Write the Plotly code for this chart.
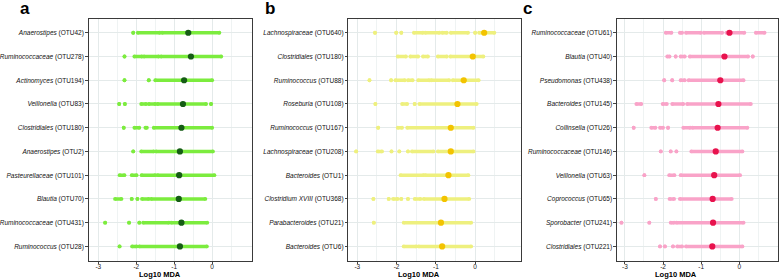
import plotly.graph_objects as go

# ---------------- data ----------------
labels_a = ["<i>Anaerostipes</i> (OTU42)", "<i>Ruminococcaceae</i> (OTU278)", "<i>Actinomyces</i> (OTU194)",
            "<i>Veillonella</i> (OTU83)", "<i>Clostridiales</i> (OTU180)", "<i>Anaerostipes</i> (OTU2)",
            "<i>Pasteurellaceae</i> (OTU101)", "<i>Blautia</i> (OTU70)", "<i>Ruminococcaceae</i> (OTU431)",
            "<i>Ruminococcus</i> (OTU28)"]
# replicate MDA values, given as runs [start, end] of overlapping points (single points: start == end)
runs_a = [
    [(-2.08, -2.08), (-1.96, -1.38), (-1.32, 0.19)],
    [(-2.31, -2.31), (-2.05, -1.85), (-1.80, -1.41), (-1.35, 0.24)],
    [(-2.31, -2.31), (-1.67, -1.67), (-1.50, 0.0)],
    [(-2.45, -2.45), (-2.30, -2.30), (-1.87, -1.74), (-1.67, -1.50), (-1.44, -0.16), (-0.03, -0.03)],
    [(-2.33, -2.33), (-2.05, -1.92), (-1.76, -1.72), (-1.54, 0.0)],
    [(-2.08, -2.08), (-1.87, -1.54), (-1.48, 0.02)],
    [(-2.44, -2.31), (-2.12, -1.99), (-1.86, -1.50), (-1.44, 0.06)],
    [(-2.56, -2.39), (-2.12, -2.12), (-1.97, -1.97), (-1.85, -1.67), (-1.61, -0.18)],
    [(-2.82, -2.82), (-2.19, -2.19), (-1.92, -1.92), (-1.82, -1.14), (-1.08, -0.13)],
    [(-2.44, -2.44), (-2.11, -1.99), (-1.92, -0.14)],
]
median_a = [-0.63, -0.56, -0.74, -0.77, -0.81, -0.85, -0.87, -0.88, -0.81, -0.85]

labels_b = ["<i>Lachnospiraceae</i> (OTU640)", "<i>Clostridiales</i> (OTU180)", "<i>Ruminococcus</i> (OTU88)",
            "<i>Roseburia</i> (OTU108)", "<i>Ruminococcus</i> (OTU167)", "<i>Lachnospiraceae</i> (OTU208)",
            "<i>Bacteroides</i> (OTU1)", "<i>Clostridium XVIII</i> (OTU368)", "<i>Parabacteroides</i> (OTU21)",
            "<i>Bacteroides</i> (OTU6)"]
runs_b = [
    [(-2.55, -2.55), (-2.01, -2.01), (-1.88, -1.88), (-1.56, -1.33), (-1.27, -0.91), (-0.84, -0.72),
     (-0.62, -0.18), (0.0, 0.0), (0.10, 0.49)],
    [(-1.97, -1.76), (-1.65, -1.45), (-1.33, -1.20), (-0.95, -0.72), (-0.63, 0.21)],
    [(-2.69, -2.69), (-2.14, -2.14), (-2.03, -1.79), (-1.71, -1.59), (-1.45, -1.17), (-1.12, -0.66), (-0.57, 0.09)],
    [(-2.54, -2.54), (-1.86, -1.73), (-1.54, -1.54), (-1.42, 0.04)],
    [(-2.47, -2.47), (-1.97, -1.86), (-1.73, -0.04)],
    [(-3.03, -3.03), (-2.48, -2.37), (-2.13, -2.13), (-1.93, -1.93), (-1.71, -1.71), (-1.61, -1.06), (-0.95, -0.04)],
    [(-1.90, -1.31), (-1.27, -0.17)],
    [(-2.59, -2.59), (-2.20, -2.20), (-2.09, -1.97), (-1.88, -1.88), (-1.71, -1.71), (-1.54, -1.39), (-1.31, -0.15)],
    [(-2.58, -2.58), (-1.82, -0.10)],
    [(-1.82, -1.50), (-1.44, -0.10)],
]
median_b = [0.23, -0.06, -0.29, -0.45, -0.62, -0.62, -0.68, -0.78, -0.87, -0.84]

labels_c = ["<i>Ruminococcaceae</i> (OTU61)", "<i>Blautia</i> (OTU40)", "<i>Pseudomonas</i> (OTU438)",
            "<i>Bacteroides</i> (OTU145)", "<i>Collinsella</i> (OTU26)", "<i>Ruminococcaceae</i> (OTU146)",
            "<i>Veillonella</i> (OTU63)", "<i>Coprococcus</i> (OTU65)", "<i>Sporobacter</i> (OTU241)",
            "<i>Clostridiales</i> (OTU221)"]
runs_c = [
    [(-1.93, -1.78), (-1.56, -1.50), (-1.40, -1.01), (-0.93, -0.45), (-0.34, 0.13), (0.43, 0.66)],
    [(-1.89, -1.83), (-1.67, -1.67), (-1.54, -1.43), (-1.30, 0.23), (0.35, 0.35)],
    [(-1.97, -1.97), (-1.76, -1.76), (-1.54, -1.43), (-1.33, 0.11)],
    [(-2.70, -2.57), (-2.01, -1.90), (-1.76, -1.47), (-1.37, 0.30)],
    [(-2.77, -2.77), (-2.31, -2.20), (-2.08, -2.00), (-1.87, -1.87), (-1.47, -1.29), (-1.23, 0.21)],
    [(-2.06, -2.06), (-1.80, -1.80), (-1.65, -1.65), (-1.26, 0.08)],
    [(-2.49, -2.49), (-1.84, -1.70), (-1.54, 0.02)],
    [(-2.19, -2.19), (-1.83, -1.71), (-1.56, -0.20)],
    [(-3.09, -3.09), (-2.36, -2.36), (-1.80, -1.71), (-1.65, 0.11)],
    [(-2.08, -2.08), (-1.95, -1.95), (-1.74, -1.74), (-1.63, -1.50), (-1.40, 0.08)],
]
median_c = [-0.26, -0.39, -0.50, -0.55, -0.57, -0.62, -0.66, -0.70, -0.69, -0.71]

x_ticks = [-3, -2, -1, 0]
panel_letters = ["a", "b", "c"]
x_title = "Log10 MDA"

# ---------------- styling ----------------
W, H = 779, 279
FONT = "Liberation Sans, Arial, sans-serif"
panels = [
    dict(labels=labels_a, runs=runs_a, med=median_a, light="#7cec3e", dark="#155c15",
         px=(86, 250), xr=(-3.254, 1.05), letter_x=15, title_x=157.5),
    dict(labels=labels_b, runs=runs_b, med=median_b, light="#eef07e", dark="#f3c300",
         px=(346.7, 520), xr=(-3.228, 1.168), letter_x=261, title_x=418),
    dict(labels=labels_c, runs=runs_c, med=median_c, light="#f9a3c8", dark="#e8124d",
         px=(616.3, 777.5), xr=(-3.209, 0.999), letter_x=520, title_x=675.7),
]
y_top, y_bot = 18.5, 260.7
ydom = [1 - y_bot / H, 1 - y_top / H]

fig = go.Figure()
layout = dict(width=W, height=H, margin=dict(l=0, r=0, t=0, b=0),
              paper_bgcolor="white", plot_bgcolor="white", showlegend=False)
annotations = []

for i, p in enumerate(panels):
    n = "" if i == 0 else str(i + 1)
    xa, ya = "x" + n, "y" + n
    xs, ys = [], []
    for lab, rr in zip(p["labels"], p["runs"]):
        for s, e in rr:
            xs += [s, e, None]
            ys += [lab, lab, None]
    fig.add_trace(go.Scatter(x=xs, y=ys, mode="lines+markers", xaxis=xa, yaxis=ya,
                             line=dict(color=p["light"], width=3.6),
                             marker=dict(color=p["light"], size=3.8, line=dict(width=0)),
                             hoverinfo="skip"))
    fig.add_trace(go.Scatter(x=p["med"], y=p["labels"], mode="markers", xaxis=xa, yaxis=ya,
                             marker=dict(color=p["dark"], size=6.2, line=dict(width=0))))
    xd = [p["px"][0] / W, p["px"][1] / W]
    layout["xaxis" + n] = dict(domain=xd, range=list(p["xr"]), anchor=ya,
                               tickvals=x_ticks, ticktext=[str(t) for t in x_ticks],
                               showgrid=True, gridcolor="#e4eaea", gridwidth=1.1,
                               minor=dict(tickvals=[-2.5, -1.5, -0.5, 0.5], showgrid=True,
                                          gridcolor="#eff3f3", gridwidth=0.6),
                               zeroline=False, showline=True, linecolor="#3a3a3a", linewidth=1,
                               mirror=True, ticks="outside", ticklen=2.5, tickwidth=0.8,
                               ticklabelstandoff=-3,
                               tickcolor="#444", tickfont=dict(family=FONT, size=6.5, color="#222"))
    layout["yaxis" + n] = dict(domain=ydom, anchor=xa, type="category",
                               categoryorder="array", categoryarray=p["labels"],
                               range=[9.6, -0.6], showgrid=True, gridcolor="#e4eaea", gridwidth=1.1,
                               zeroline=False, showline=True, linecolor="#3a3a3a", linewidth=1,
                               mirror=True, ticks="outside", ticklen=2.5, tickwidth=0.8,
                               tickcolor="#444", tickfont=dict(family=FONT, size=6.5, color="#111"))
    annotations.append(dict(text="<b>%s</b>" % panel_letters[i], xref="paper", yref="paper",
                            x=p["letter_x"] / W, y=1 - 9 / H, xanchor="left", yanchor="middle",
                            showarrow=False, font=dict(family=FONT, size=17, color="black")))
    annotations.append(dict(text="<b>%s</b>" % x_title, xref="paper", yref="paper",
                            x=p["title_x"] / W, y=1 - 274.5 / H, xanchor="center", yanchor="middle",
                            showarrow=False, font=dict(family=FONT, size=7.5, color="black")))

layout["annotations"] = annotations
fig.update_layout(**layout)
fig.write_html("out.html", config={"displayModeBar": False},
               post_script="document.body.style.margin='0px';document.body.style.overflow='hidden';")
